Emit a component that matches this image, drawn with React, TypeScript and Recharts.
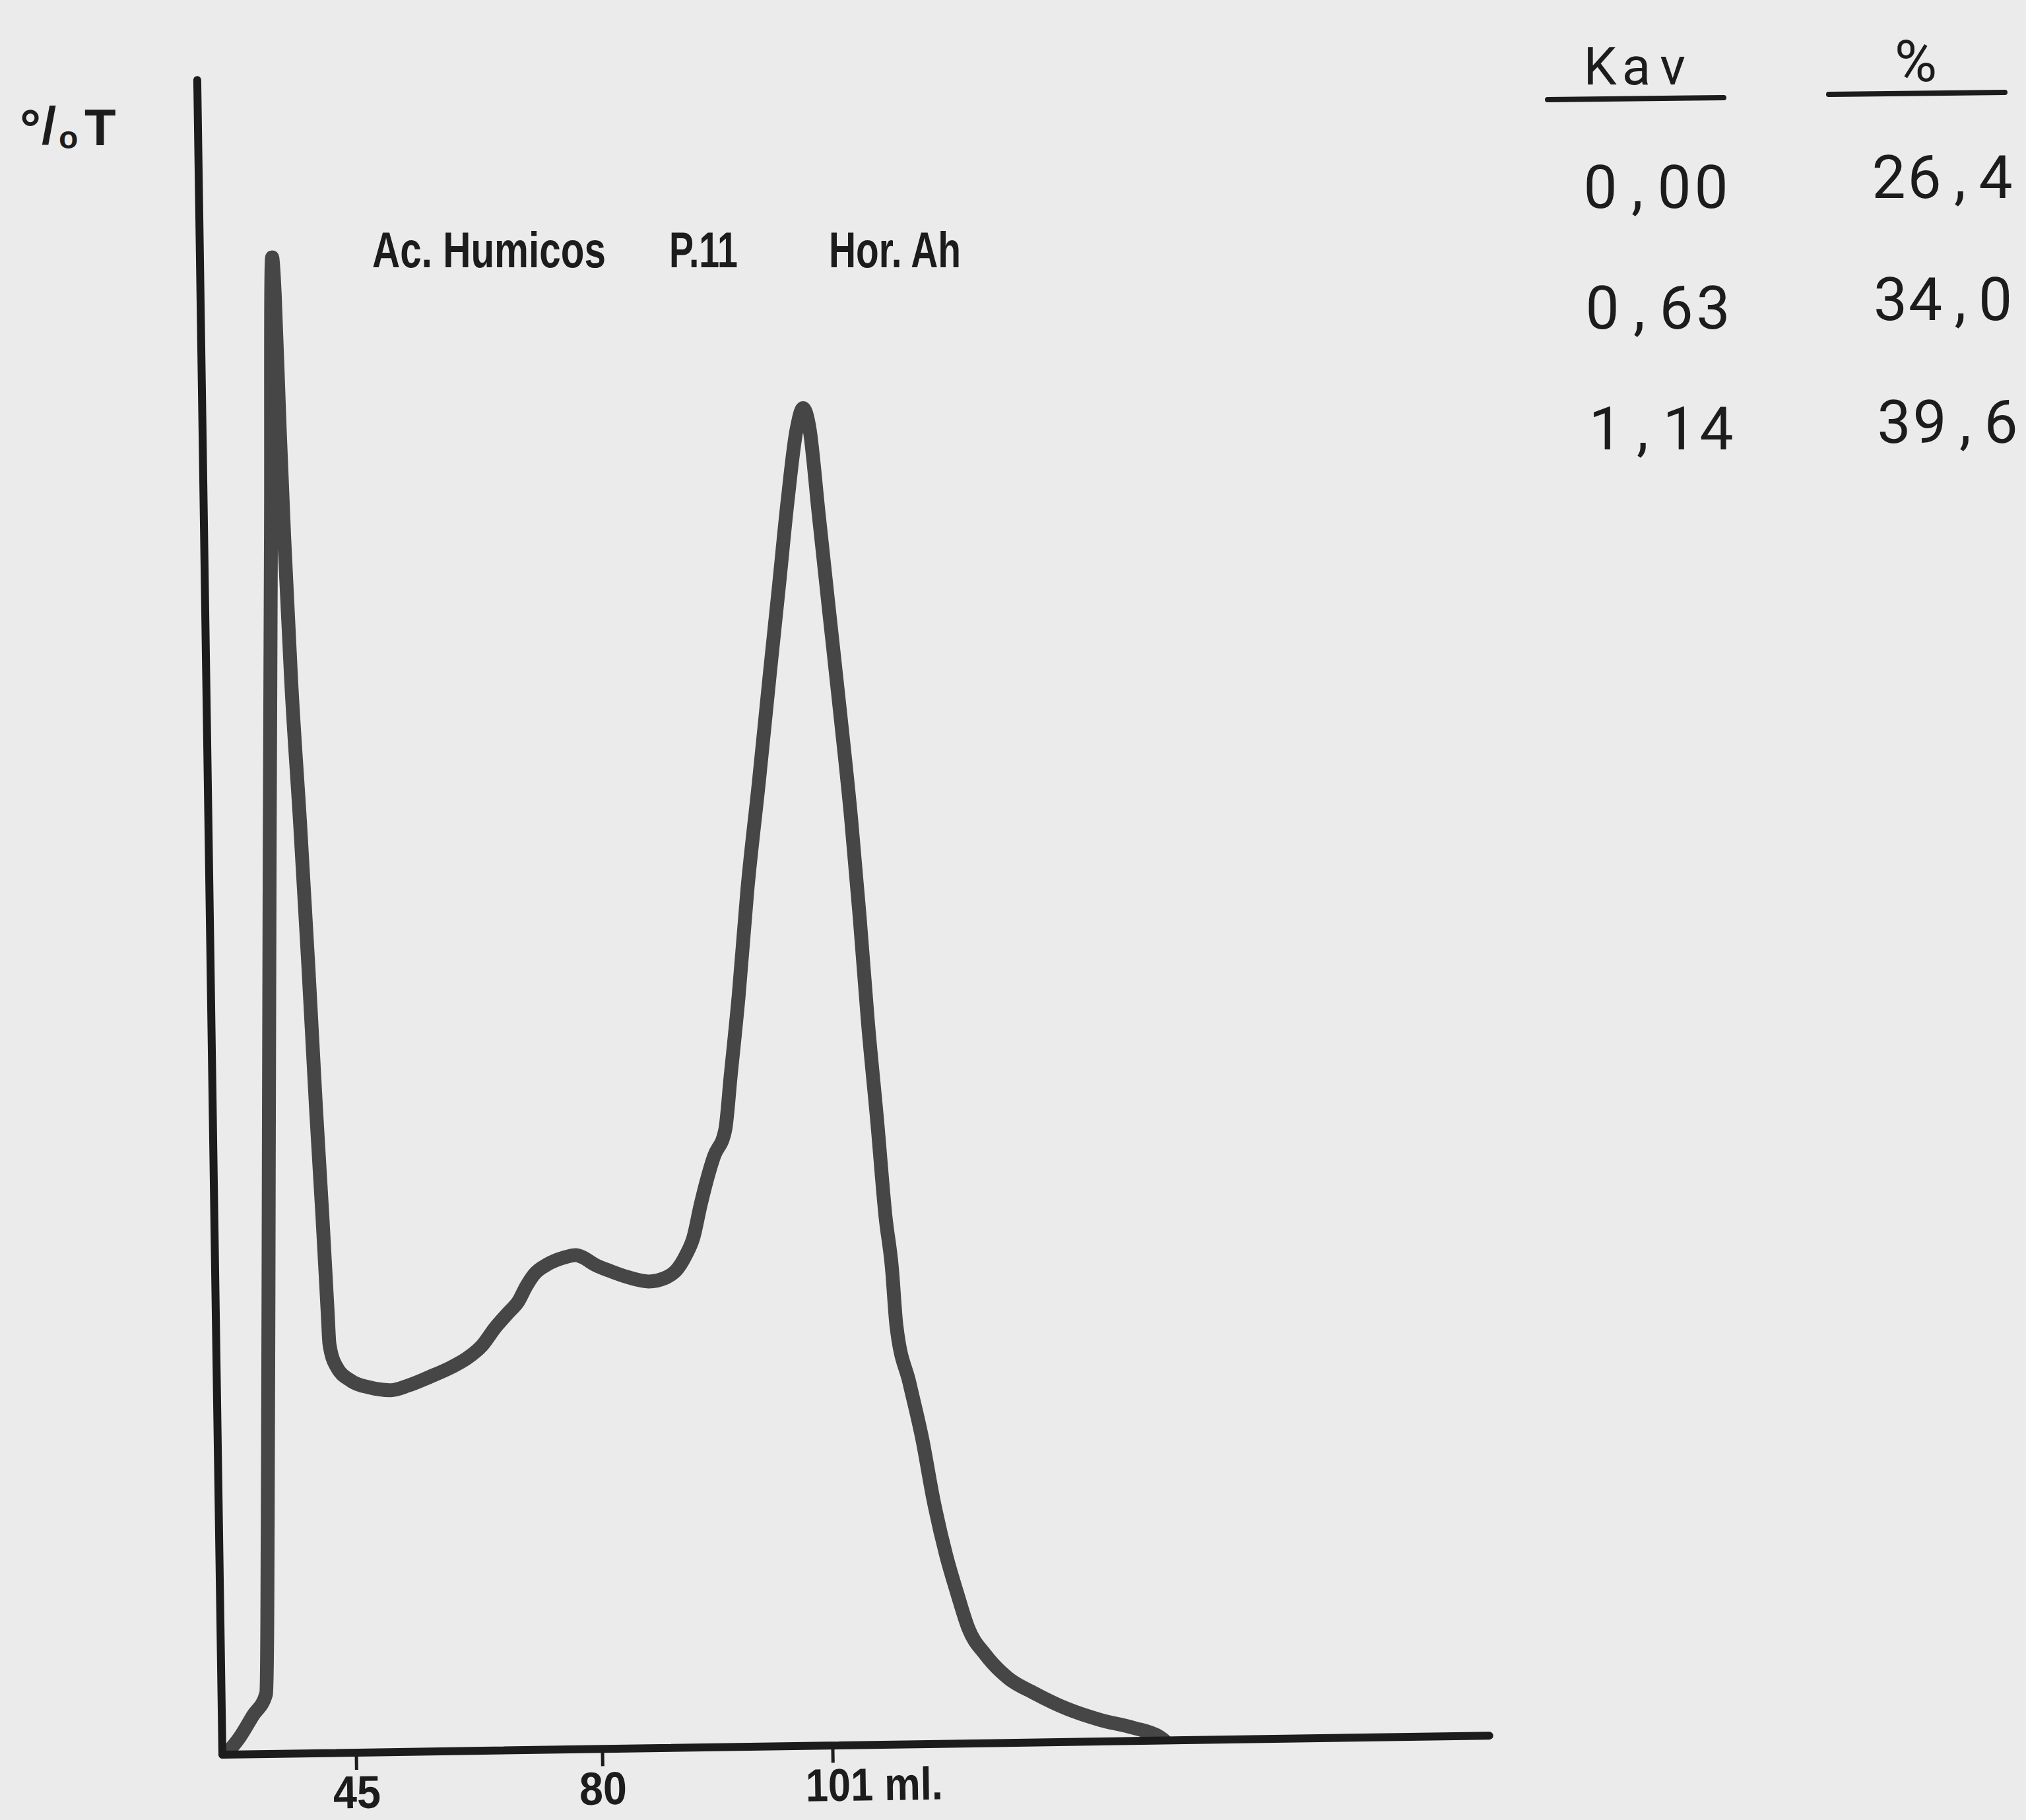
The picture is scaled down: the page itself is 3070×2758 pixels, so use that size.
import React from 'react';
import { LineChart, Line, XAxis, YAxis } from 'recharts';

// ---- data ----
// position along the chart paper (arbitrary recorder units, 0 = origin)
const elutionPos = [
  0.6, 2.64, 4.7, 6.76, 7.41, 8.31, 9.2, 10.15, 10.94, 11.25, 11.7, 12.13, 12.86, 13.89,
  14.82, 15.66, 16.38, 16.94, 17.15, 18.1, 20.36, 23.14, 26.34, 29.05, 32.27, 35.49, 37.82,
  40.25, 42.29, 44.33, 45.86, 47.1, 48.33, 50.36, 52.77, 54.68, 55.87, 57.46, 59.84, 62.62,
  65.71, 68.12, 70.15, 71.38, 72.53, 73.71, 75.83, 77.6, 78.54, 79.94, 81.52, 83.49, 85.37,
  87.0, 88.52, 90.0, 91.05, 92.0, 93.18, 94.53, 95.97, 97.4, 98.45, 99.48, 100.63, 101.68,
  102.55, 103.1, 104.95, 106.8, 108.26, 110.11, 111.71, 113.32, 115.85, 119.19, 123.15,
  128.11, 133.08, 138.06, 142.04, 142.8,
];
// signal height, % of the vertical axis
const transmittance = [
  0.05, 1.01, 2.3, 3.59, 14.11, 33.8, 53.5, 73.19, 89.35, 87.18, 79.06, 72.63, 64.08, 55.52,
  46.97, 38.45, 32.03, 26.47, 24.42, 23.11, 22.2, 21.79, 21.61, 21.88, 22.37, 22.91, 23.41,
  24.18, 25.24, 26.13, 26.79, 27.69, 28.4, 28.98, 29.36, 29.51, 29.34, 28.94, 28.53, 28.13,
  27.87, 28.06, 28.64, 29.42, 30.44, 32.4, 35.27, 36.84, 40.02, 44.82, 51.2, 57.57, 63.94,
  69.33, 74.45, 78.58, 79.87, 78.57, 73.48, 67.72, 61.64, 55.25, 49.49, 43.11, 37.35, 31.59,
  28.43, 25.0, 21.57, 18.13, 14.69, 11.26, 8.96, 6.87, 5.28, 3.88, 2.95, 1.98, 1.29, 0.79,
  0.22, 0.0,
];
const tickPositions = [20.3, 57.6, 92.5];
const tickLabels = ['45', '80', '101 ml.'];
const yAxisLabel = ['°', '/', 'o', 'T'];
const titleParts = ['Ac. Humicos', 'P.11', 'Hor. Ah'];
const tableHeaders = ['Kav', '%'];
const kavValues = ['0,00', '0,63', '1,14'];
const pctValues = ['26,4', '34,0', '39,6'];

const data = elutionPos.map((x, i) => ({ x, y: transmittance[i] }));

// ---- layout / style ----
const W = 3070;
const H = 2758;
const BG = '#ebebeb';
const INK = '#1c1c1c';
const TRACE = '#464646';
const condensed = "'Liberation Sans', Arial, sans-serif";
const typewriter = "Roboto, 'Noto Sans', sans-serif";

const titleLayout = [
  { x: 564, len: 354 },
  { x: 1014, len: 104 },
  { x: 1256, len: 200 },
];
// horizontal extent of each tick label: offset of its start from the tick, and its length
const tickLabelLayout: Record<string, { dx: number; len: number }> = {
  '45': { dx: -36, len: 72 },
  '80': { dx: -36, len: 72 },
  '101 ml.': { dx: -42, len: 208 },
};
// typewriter cells: left edge of first cell, baseline, cell width
const kavLayout = [
  { x: 2397, y: 315, cell: 56 },
  { x: 2400, y: 498, cell: 56 },
  { x: 2405, y: 681, cell: 56 },
];
const pctLayout = [
  { x: 2835, y: 300, cell: 54 },
  { x: 2838, y: 485, cell: 53 },
  { x: 2843, y: 671, cell: 54 },
];

// one character per fixed-width cell, like a typewriter
const CellText = ({
  text,
  x,
  y,
  cell,
  size,
}: {
  text: string;
  x: number;
  y: number;
  cell: number;
  size: number;
}) => (
  <text y={y} fontFamily={typewriter} fontSize={size} fill={INK} textAnchor="middle">
    {text.split('').map((ch, i) => (
      <tspan key={i} x={x + cell / 2 + i * cell} y={y}>
        {ch}
      </tspan>
    ))}
  </text>
);

const XTick = (props: any) => {
  const { x, y, payload } = props;
  const idx = tickPositions.indexOf(payload.value);
  const label = idx >= 0 ? tickLabels[idx] : String(payload.value);
  const lay = tickLabelLayout[label] ?? { dx: -label.length * 18, len: label.length * 36 };
  return (
    <text
      x={x + lay.dx}
      y={y + 58}
      textAnchor="start"
      fontFamily={condensed}
      fontWeight={700}
      fontSize={70}
      fill={INK}
      textLength={lay.len}
      lengthAdjust="spacingAndGlyphs"
    >
      {label}
    </text>
  );
};

export default function App() {
  return (
    <div
      style={{
        position: 'absolute',
        left: 0,
        top: 0,
        width: W,
        height: H,
        background: BG,
        overflow: 'hidden',
      }}
    >
      <div
        style={{
          position: 'absolute',
          left: 0,
          top: 0,
          width: W,
          height: H,
          transform: 'rotate(-0.86deg)',
          transformOrigin: '337px 2659px',
        }}
      >
        <LineChart
          width={W}
          height={H}
          data={data}
          margin={{ top: 121, right: 813, bottom: 0, left: 327 }}
        >
          <XAxis
            type="number"
            dataKey="x"
            domain={[0, 192]}
            ticks={tickPositions}
            interval={0}
            allowDataOverflow
            height={99}
            tickSize={26}
            tickMargin={0}
            tick={<XTick />}
            axisLine={{ stroke: INK, strokeWidth: 12, strokeLinecap: 'round' }}
            tickLine={{ stroke: INK, strokeWidth: 5 }}
          />
          <YAxis
            type="number"
            domain={[0, 100]}
            width={10}
            tick={false}
            tickLine={false}
            allowDataOverflow
            axisLine={{ stroke: INK, strokeWidth: 12, strokeLinecap: 'round' }}
          />
          <Line
            type="monotoneX"
            dataKey="y"
            stroke={TRACE}
            strokeWidth={21}
            strokeLinejoin="round"
            strokeLinecap="round"
            dot={false}
            activeDot={false}
            isAnimationActive={false}
          />
        </LineChart>
      </div>

      <svg
        width={W}
        height={H}
        style={{ position: 'absolute', left: 0, top: 0, pointerEvents: 'none' }}
      >
        {/* y axis label */}
        <text fontFamily={condensed} fontWeight={700} fill={INK} fontSize={80}>
          <tspan x={30} y={222}>{yAxisLabel[0]}</tspan>
          <tspan x={63} y={218}>{yAxisLabel[1]}</tspan>
          <tspan x={89} y={225} fontSize={48}>{yAxisLabel[2]}</tspan>
          <tspan x={128} y={220} fontSize={78}>{yAxisLabel[3]}</tspan>
        </text>

        {/* title */}
        {titleParts.map((w, i) => (
          <text
            key={w}
            x={titleLayout[i].x}
            y={405}
            fontFamily={condensed}
            fontWeight={700}
            fontSize={76}
            fill={INK}
            textLength={titleLayout[i].len}
            lengthAdjust="spacingAndGlyphs"
          >
            {w}
          </text>
        ))}

        {/* table */}
        <CellText text={tableHeaders[0]} x={2397} y={128} cell={55} size={80} />
        <text x={2903} y={123} fontFamily={typewriter} fontSize={88} fill={INK} textAnchor="middle">
          {tableHeaders[1]}
        </text>
        <line x1={2345} y1={151} x2={2612} y2={148} stroke={INK} strokeWidth={8} strokeLinecap="round" />
        <line x1={2771} y1={143} x2={3038} y2={140} stroke={INK} strokeWidth={8} strokeLinecap="round" />

        {kavValues.map((v, i) => (
          <CellText
            key={'k' + v}
            text={v}
            x={kavLayout[i].x}
            y={kavLayout[i].y}
            cell={kavLayout[i].cell}
            size={91}
          />
        ))}
        {pctValues.map((v, i) => (
          <CellText
            key={'p' + v}
            text={v}
            x={pctLayout[i].x}
            y={pctLayout[i].y}
            cell={pctLayout[i].cell}
            size={91}
          />
        ))}
      </svg>
    </div>
  );
}
